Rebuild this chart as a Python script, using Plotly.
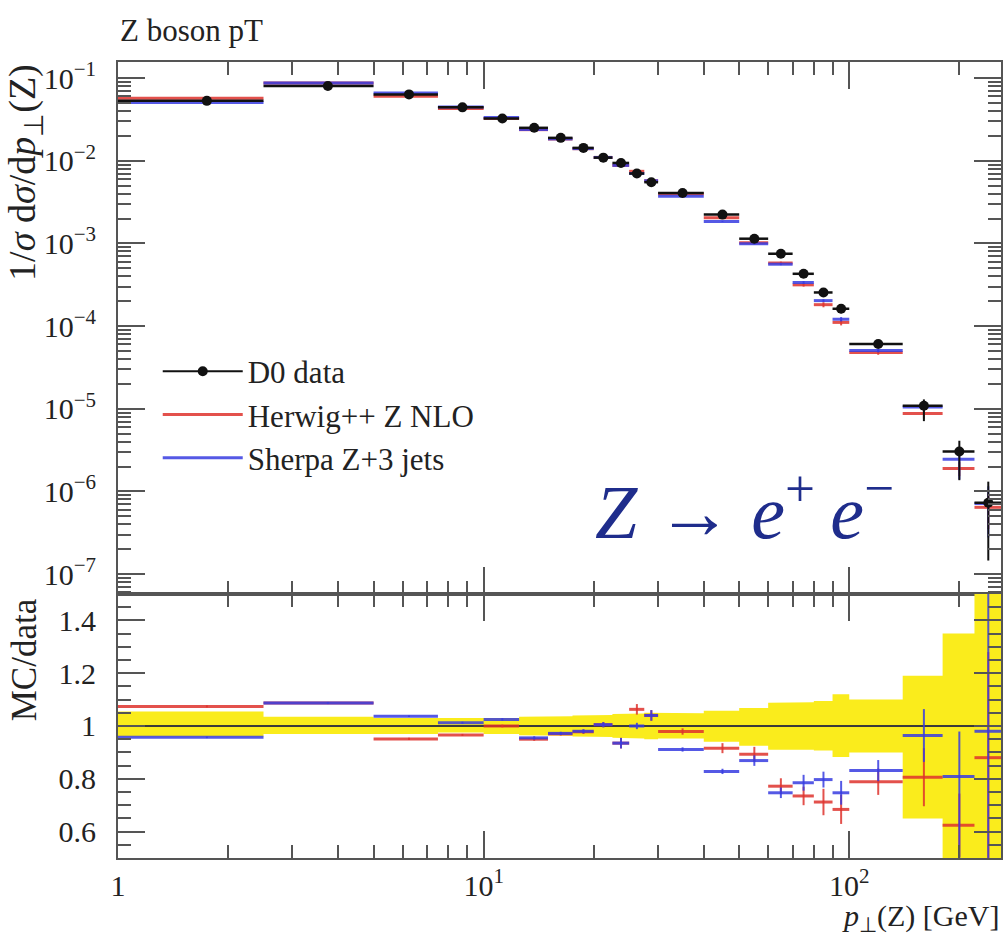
import math
import plotly.graph_objects as go

# ---------------- data ----------------
bin_edges = [0, 2.5, 5, 7.5, 10, 12.5, 15, 17.5, 20, 22.5, 25, 27.5, 30,
             40, 50, 60, 70, 80, 90, 100, 140, 180, 220, 260]
pt_points = [1.75, 3.75, 6.25, 8.75, 11.25, 13.75, 16.25, 18.75, 21.25, 23.75,
             26.25, 28.75, 35, 45, 55, 65, 75, 85, 95, 120, 160, 200, 240]
data_vals = [0.053, 0.080, 0.0634, 0.0442, 0.0324, 0.025, 0.0189, 0.0143, 0.0109,
             0.0094, 0.0070, 0.0055, 0.00407, 0.00223, 0.00114, 0.00075,
             0.000429, 0.000255, 0.000162, 6.08e-5, 1.09e-5, 3.04e-6, 7.3e-7]
# relative data uncertainty band (ratio units)
band_hi = [1.055, 1.035, 1.03, 1.028, 1.03, 1.035, 1.037, 1.04, 1.042, 1.045, 1.047,
           1.05, 1.048, 1.058, 1.068, 1.088, 1.09, 1.095, 1.12, 1.10, 1.19, 1.35, 1.8]
band_lo = [0.96, 0.97, 0.97, 0.975, 0.97, 0.965, 0.963, 0.96, 0.958, 0.955, 0.953,
           0.95, 0.953, 0.94, 0.925, 0.91, 0.91, 0.907, 0.883, 0.90, 0.65, 0.45, 0.2]

herwig_ratio = [1.074, 1.087, 0.951, 0.966, 1.0, 0.95, 0.97, 0.978, 1.005, 0.935,
                1.063, 1.04, 0.979, 0.916, 0.893, 0.772, 0.735, 0.712, 0.684,
                0.789, 0.806, 0.624, 0.88]
herwig_err_up = [0.004, 0.004, 0.004, 0.004, 0.005, 0.006, 0.006, 0.008, 0.01, 0.02,
                 0.02, 0.02, 0.012, 0.019, 0.028, 0.03, 0.035, 0.05, 0.055, 0.05,
                 0.11, 0.12, 0.4]
herwig_err_dn = [0.004, 0.004, 0.004, 0.004, 0.005, 0.006, 0.006, 0.008, 0.01, 0.02,
                 0.02, 0.02, 0.012, 0.019, 0.028, 0.03, 0.035, 0.05, 0.055, 0.05,
                 0.11, 0.12, 0.4]
sherpa_ratio = [0.957, 1.087, 1.037, 1.012, 1.025, 0.955, 0.972, 0.98, 1.005, 0.935,
                1.0, 1.04, 0.911, 0.828, 0.869, 0.747, 0.785, 0.797, 0.747,
                0.831, 0.964, 0.809, 0.98]
sherpa_err_up = [0.003, 0.003, 0.003, 0.004, 0.005, 0.006, 0.006, 0.008, 0.01, 0.02,
                 0.012, 0.02, 0.008, 0.01, 0.02, 0.02, 0.03, 0.03, 0.045, 0.04,
                 0.1, 0.17, 0.6]
sherpa_err_dn = [0.003, 0.003, 0.003, 0.004, 0.005, 0.006, 0.006, 0.008, 0.01, 0.02,
                 0.012, 0.02, 0.008, 0.01, 0.02, 0.02, 0.03, 0.03, 0.045, 0.04,
                 0.1, 0.35, 0.6]

y_tick_vals = [1e-7, 1e-6, 1e-5, 1e-4, 1e-3, 1e-2, 1e-1]
y_tick_text = ["10<sup>\u22127</sup>", "10<sup>\u22126</sup>", "10<sup>\u22125</sup>",
               "10<sup>\u22124</sup>", "10<sup>\u22123</sup>", "10<sup>\u22122</sup>",
               "10<sup>\u22121</sup>"]
x_tick_vals = [1, 10, 100]
x_tick_text = ["1", "10<sup>1</sup>", "10<sup>2</sup>"]
r_tick_vals = [0.6, 0.8, 1.0, 1.2, 1.4]
r_tick_text = ["0.6", "0.8", "1", "1.2", "1.4"]

# ---------------- styling ----------------
X_MIN, X_MAX = 1.0, 260.0
FONT = "Liberation Serif, 'Times New Roman', serif"
TXT = "#222222"
RED = "rgba(222,50,45,0.85)"
BLUE = "rgba(55,60,225,0.85)"
BLACK = "#111111"
YELLOW = "#faec1c"
AXC = "#555555"

n = len(pt_points)
lo_edges = [max(bin_edges[i], X_MIN) for i in range(n)]
hi_edges = [bin_edges[i + 1] for i in range(n)]
xminus = [pt_points[i] - lo_edges[i] for i in range(n)]
xplus = [hi_edges[i] - pt_points[i] for i in range(n)]


def gap(vals, fill=None):
    out = []
    for v in vals:
        out += [v, fill]
    return out


fig = go.Figure()


def mc_trace(ratio, eup, edn, color, name, rank, ratio_panel):
    if ratio_panel:
        yv, up, dn = ratio, eup, edn
        xa, ya = "x2", "y2"
    else:
        yv = [ratio[i] * data_vals[i] for i in range(n)]
        up = [eup[i] * data_vals[i] for i in range(n)]
        dn = [edn[i] * data_vals[i] for i in range(n)]
        xa, ya = "x", "y"
    return go.Scatter(
        x=gap(pt_points), y=gap(yv), mode="lines", name=name,
        line=dict(color=color, width=3), connectgaps=False,
        error_x=dict(type="data", symmetric=False, array=gap(xplus, 0),
                     arrayminus=gap(xminus, 0), color=color, thickness=3, width=0),
        error_y=dict(type="data", symmetric=False, array=gap(up, 0),
                     arrayminus=gap(dn, 0), color=color, thickness=2, width=0),
        xaxis=xa, yaxis=ya, showlegend=not ratio_panel, legendrank=rank,
        hoverinfo="skip")


# ratio band
bx, by_hi, by_lo = [], [], []
for i in range(n):
    bx += [lo_edges[i], hi_edges[i]]
    by_hi += [band_hi[i], band_hi[i]]
    by_lo += [band_lo[i], band_lo[i]]
fig.add_trace(go.Scatter(x=bx + bx[::-1], y=by_hi + by_lo[::-1], fill="toself",
                         fillcolor=YELLOW, line=dict(width=0), mode="lines",
                         xaxis="x2", yaxis="y2", showlegend=False, hoverinfo="skip"))
# data/data = 1 line
ones = [data_vals[i] / data_vals[i] for i in range(n)]
lx, ly = [], []
for i in range(n):
    lx += [lo_edges[i], hi_edges[i]]
    ly += [ones[i], ones[i]]
fig.add_trace(go.Scatter(x=lx, y=ly, mode="lines", line=dict(color="#3a3a3a", width=2),
                         xaxis="x2", yaxis="y2", showlegend=False, hoverinfo="skip"))

fig.add_trace(mc_trace(herwig_ratio, herwig_err_up, herwig_err_dn, RED, "Herwig++ Z NLO", 2, True))
fig.add_trace(mc_trace(sherpa_ratio, sherpa_err_up, sherpa_err_dn, BLUE, "Sherpa Z+3 jets", 3, True))
fig.add_trace(mc_trace(herwig_ratio, herwig_err_up, herwig_err_dn, RED, "Herwig++ Z NLO", 2, False))
fig.add_trace(mc_trace(sherpa_ratio, sherpa_err_up, sherpa_err_dn, BLUE, "Sherpa Z+3 jets", 3, False))

# data
d_up = [(band_hi[i] - 1) * data_vals[i] for i in range(n)]
d_dn = [(1 - band_lo[i]) * data_vals[i] for i in range(n)]
fig.add_trace(go.Scatter(
    x=gap(pt_points), y=gap(data_vals), mode="lines+markers", name="D0 data",
    line=dict(color=BLACK, width=2), marker=dict(color=BLACK, size=10),
    connectgaps=False,
    error_x=dict(type="data", symmetric=False, array=gap(xplus, 0),
                 arrayminus=gap(xminus, 0), color=BLACK, thickness=2.5, width=0),
    error_y=dict(type="data", symmetric=False, array=gap(d_up, 0),
                 arrayminus=gap(d_dn, 0), color=BLACK, thickness=2, width=0),
    xaxis="x", yaxis="y", legendrank=1, hoverinfo="skip"))

SPLIT = 0.3317
y_minor = [k * 10.0 ** e for e in range(-8, 0) for k in range(2, 10)]
x_minor = [k * 10.0 ** e for e in range(0, 3) for k in range(2, 10)]

common_x = dict(type="log", range=[math.log10(X_MIN), math.log10(X_MAX)],
                tickmode="array", tickvals=x_tick_vals, ticktext=x_tick_text,
                ticks="inside", ticklen=27, tickwidth=1.5, tickcolor=AXC,
                mirror="allticks", showline=True, linecolor=AXC, linewidth=2,
                showgrid=False, zeroline=False,
                minor=dict(tickmode="array", tickvals=x_minor, ticks="inside",
                           ticklen=13, tickwidth=1.5, tickcolor=AXC, showgrid=False))

fig.update_layout(
    width=1004, height=941,
    margin=dict(l=118, r=1, t=62, b=83),
    paper_bgcolor="white", plot_bgcolor="white",
    font=dict(family=FONT, size=30, color=TXT),
    xaxis=dict(common_x, domain=[0, 1], anchor="y", showticklabels=False),
    xaxis2=dict(common_x, domain=[0, 1], anchor="y2", matches="x",
                showticklabels=True, ticklabelstandoff=0,
                tickfont=dict(family=FONT, size=30, color=TXT)),
    yaxis=dict(type="log", domain=[SPLIT, 1], range=[-7.24, -0.806], anchor="x",
               tickmode="array", tickvals=y_tick_vals, ticktext=y_tick_text,
               ticks="inside", ticklen=27, tickwidth=1.5, tickcolor=AXC,
               mirror="allticks", showline=True, linecolor=AXC, linewidth=2,
               showgrid=False, zeroline=False, ticklabelstandoff=14,
               tickfont=dict(family=FONT, size=30, color=TXT),
               minor=dict(tickmode="array", tickvals=y_minor, ticks="inside",
                          ticklen=13, tickwidth=1.5, tickcolor=AXC, showgrid=False)),
    yaxis2=dict(domain=[0, SPLIT], range=[0.5, 1.5], anchor="x2",
                tickmode="array", tickvals=r_tick_vals, ticktext=r_tick_text,
                ticks="inside", ticklen=27, tickwidth=1.5, tickcolor=AXC,
                mirror="allticks", showline=True, linecolor=AXC, linewidth=2,
                showgrid=False, zeroline=False, ticklabelstandoff=14,
                tickfont=dict(family=FONT, size=30, color=TXT),
                minor=dict(dtick=0.05, ticks="inside", ticklen=13, tickwidth=1.5,
                           tickcolor=AXC, showgrid=False)),
    legend=dict(x=0.045, y=0.645, xanchor="left", yanchor="top",
                bgcolor="rgba(0,0,0,0)", font=dict(family=FONT, size=31, color=TXT),
                tracegroupgap=0, itemwidth=80),
    showlegend=True,
)

fig.add_annotation(text="Z boson pT", xref="paper", yref="paper", x=0, y=1.040,
                   xanchor="left", yanchor="middle", showarrow=False,
                   font=dict(family=FONT, size=31, color=TXT))
fig.add_annotation(text="1/<i>\u03c3</i> d<i>\u03c3</i>/d<i>p</i><sub>\u22a5</sub>(Z)",
                   xref="paper", yref="paper", x=-0.106, y=1.0, textangle=-90,
                   xanchor="center", yanchor="top", showarrow=False,
                   font=dict(family=FONT, size=38, color=TXT))
fig.add_annotation(text="MC/data", xref="paper", yref="paper", x=-0.106, y=SPLIT - 0.003,
                   textangle=-90, xanchor="center", yanchor="top", showarrow=False,
                   font=dict(family=FONT, size=35, color=TXT))
fig.add_annotation(text="<i>p</i><sub>\u22a5</sub>(Z) [GeV]", xref="paper", yref="paper",
                   x=1.0, y=-0.076, xanchor="right", yanchor="middle", showarrow=False,
                   font=dict(family=FONT, size=30, color=TXT))
fig.add_annotation(text="<i>Z</i> \u2192 <i>e</i><sup>+</sup>\u2009<i>e</i><sup>\u2212</sup>",
                   xref="paper", yref="paper", x=0.71, y=0.442, xanchor="center",
                   yanchor="middle", showarrow=False,
                   font=dict(family=FONT, size=76, color="#1f2d8c"))

fig.write_html("out.html")
